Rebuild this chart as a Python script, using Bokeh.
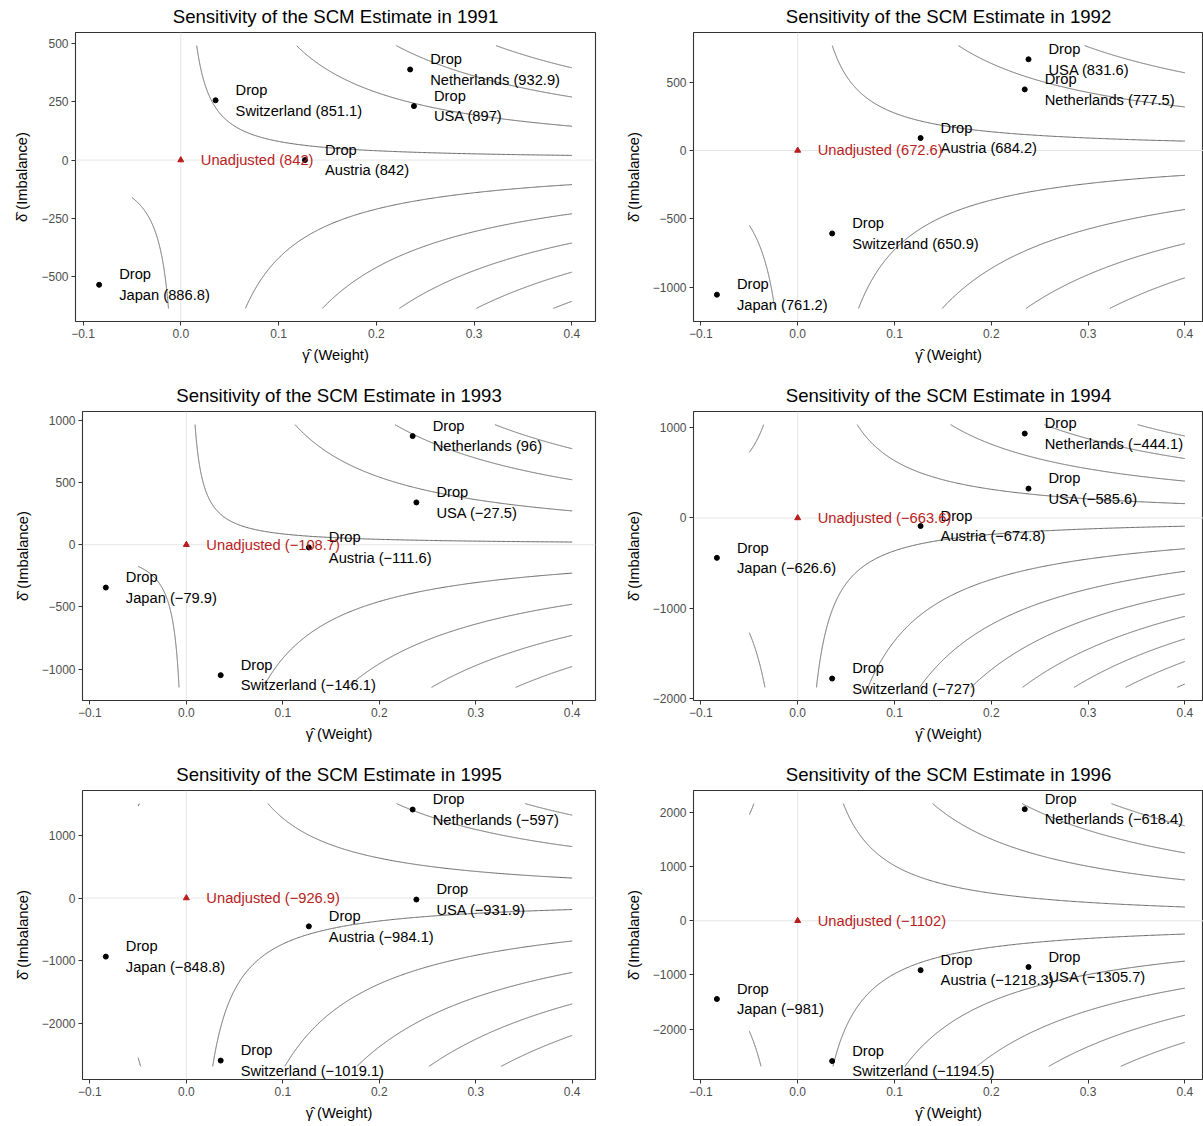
import numpy as np
from bokeh.plotting import figure
from bokeh.models import Span, CustomJSTickFormatter, FixedTicker, Range1d
from bokeh.layouts import column, row
from bokeh.embed import file_html
from bokeh.resources import INLINE
from bokeh.core.properties import value

# ---------------- data ----------------
years = [1991, 1992, 1993, 1994, 1995, 1996]
countries = ["Japan", "Switzerland", "Austria", "Netherlands", "USA"]
gamma = [-0.0835, 0.0356, 0.127, 0.2346, 0.2385]

delta_1991 = [-534, 256, 0, 388, 231]
delta_1992 = [-1055, -607, 91, 447, 667]
delta_1993 = [-344, -1048, -22, 873, 340]
delta_1994 = [-442, -1780, -89, 936, 326]
delta_1995 = [-931, -2583, -450, 1406, -24]
delta_1996 = [-1445, -2592, -912, 2063, -854]

est_1991 = [886.8, 851.1, 842, 932.9, 897]
est_1992 = [761.2, 650.9, 684.2, 777.5, 831.6]
est_1993 = [-79.9, -146.1, -111.6, 96, -27.5]
est_1994 = [-626.6, -727, -674.8, -444.1, -585.6]
est_1995 = [-848.8, -1019.1, -984.1, -597, -931.9]
est_1996 = [-981, -1194.5, -1218.3, -618.4, -1305.7]

unadjusted = [842, 672.6, -108.7, -663.6, -926.9, -1102]

levels_1991 = [600, 650, 700, 750, 800, 850, 900, 950, 1000]
levels_1992 = [300, 400, 500, 600, 700, 800, 900]
levels_1993 = [-500, -400, -300, -200, -100, 0, 100, 200]
levels_1994 = [-1400, -1300, -1200, -1100, -1000, -900, -800, -700, -600, -500, -400, -300]
levels_1995 = [-1800, -1600, -1400, -1200, -1000, -800, -600, -400]
levels_1996 = [-2000, -1800, -1600, -1400, -1200, -1000, -800, -600, -400]

grid_gamma = [-0.05, 0.4]
grid_delta_1991 = [-635, 490]
grid_delta_1992 = [-1155, 767]
grid_delta_1993 = [-1146, 965]
grid_delta_1994 = [-1878, 1035]
grid_delta_1995 = [-2675, 1500]
grid_delta_1996 = [-2690, 2165]

x_ticks = [-0.1, 0.0, 0.1, 0.2, 0.3, 0.4]
x_tick_labels = ["\u22120.1", "0.0", "0.1", "0.2", "0.3", "0.4"]
y_ticks_1991 = [-500, -250, 0, 250, 500]
y_ticks_1992 = [-1000, -500, 0, 500]
y_ticks_1993 = [-1000, -500, 0, 500, 1000]
y_ticks_1994 = [-2000, -1000, 0, 1000]
y_ticks_1995 = [-2000, -1000, 0, 1000]
y_ticks_1996 = [-2000, -1000, 0, 1000, 2000]

deltas = [delta_1991, delta_1992, delta_1993, delta_1994, delta_1995, delta_1996]
ests = [est_1991, est_1992, est_1993, est_1994, est_1995, est_1996]
levels = [levels_1991, levels_1992, levels_1993, levels_1994, levels_1995, levels_1996]
grids = [grid_delta_1991, grid_delta_1992, grid_delta_1993, grid_delta_1994, grid_delta_1995, grid_delta_1996]
yticks = [y_ticks_1991, y_ticks_1992, y_ticks_1993, y_ticks_1994, y_ticks_1995, y_ticks_1996]

# ---------------- style ----------------
FONT = "Liberation Sans"
RED = "#B81D1D"
CONTOUR = "#666666"


def fmt(v):
    return f"{v:g}".replace("-", "\u2212")


def tick_labels(vals):
    return [fmt(v) for v in vals]


def contour_segments(c, g_lo, g_hi, d_lo, d_hi, n=300):
    """Level set gamma*delta = c, restricted to the contour grid."""
    xs_all, ys_all = [], []
    if c == 0:
        return xs_all, ys_all
    for a, b in ((g_lo, -1e-12), (1e-12, g_hi)):
        if a >= b:
            continue
        cuts = [a, b] + [c / d for d in (d_lo, d_hi) if d != 0 and a < c / d < b]
        cuts = sorted(cuts)
        inside = []
        for u0, u1 in zip(cuts[:-1], cuts[1:]):
            m = 0.5 * (u0 + u1)
            if d_lo <= c / m <= d_hi:
                inside.append((u0, u1))
        if not inside:
            continue
        u0 = min(s[0] for s in inside)
        u1 = max(s[1] for s in inside)
        g = np.linspace(u0, u1, n)
        d0, d1 = sorted([c / u0, c / u1])
        g2 = c / np.linspace(d0, d1, n)
        g = np.unique(np.concatenate([g, g2[(g2 >= u0) & (g2 <= u1)]]))
        xs_all.append(g.tolist())
        ys_all.append((c / g).tolist())
    return xs_all, ys_all


def js_formatter(vals, labs):
    return CustomJSTickFormatter(
        args=dict(vals=vals, labs=labs),
        code="for (let i = 0; i < vals.length; i++) { if (Math.abs(vals[i] - tick) < 1e-9) return labs[i]; } return String(tick);",
    )


LEFT_W = 611
RIGHT_W = 592
RIGHT_VISIBLE = 510 / 514.7
ROW_H = [379, 379, 368]
ROW_TOP = [32, 32, 32]
ROW_BOTTOM = [58, 58, 47]
LEFT_BORDER = [75, 82, 82]


def make_panel(i):
    r, col = divmod(i, 2)
    year = years[i]
    u = unadjusted[i]
    dl = deltas[i]
    lo, hi = grids[i]

    xmin = min(min(gamma), grid_gamma[0], 0)
    xmax = max(max(gamma), grid_gamma[1], 0)
    xpad = 0.05 * (xmax - xmin)
    x0, x1 = xmin - xpad, xmax + xpad
    ymin = min(min(dl), lo, 0)
    ymax = max(max(dl), hi, 0)
    ypad = 0.05 * (ymax - ymin)
    y0, y1 = ymin - ypad, ymax + ypad

    if col == 0:
        width = LEFT_W
        bl, br = LEFT_BORDER[r], 16
    else:
        width = RIGHT_W
        bl, br = 82, 0
        x1 = x0 + (x1 - x0) * RIGHT_VISIBLE

    p = figure(
        width=width, height=ROW_H[r],
        x_range=Range1d(x0, x1), y_range=Range1d(y0, y1),
        output_backend="svg", toolbar_location=None,
        min_border_left=bl, min_border_right=br,
        min_border_top=ROW_TOP[r], min_border_bottom=ROW_BOTTOM[r],
        title=f"Sensitivity of the SCM Estimate in {year}",
    )
    p.title.text_font = FONT
    p.title.text_font_size = "18.6px"
    p.title.text_font_style = "normal"
    p.title.text_color = "black"
    p.title.align = "center"
    p.title.vertical_align = "top"
    p.title.standoff = 8

    p.xgrid.visible = False
    p.ygrid.visible = False
    p.outline_line_color = "#333333"
    p.outline_line_width = 1.1
    p.background_fill_color = "white"
    p.border_fill_color = "white"

    for ax in (p.xaxis[0], p.yaxis[0]):
        ax.axis_line_color = None
        ax.major_tick_out = 4
        ax.major_tick_in = 0
        ax.minor_tick_out = 0
        ax.minor_tick_in = 0
        ax.major_tick_line_color = "#333333"
        ax.major_tick_line_width = 1
        ax.major_label_text_font = FONT
        ax.major_label_text_font_size = "12px"
        ax.major_label_text_color = "#4D4D4D"
        ax.axis_label_text_font = FONT
        ax.axis_label_text_font_size = "14.7px"
        ax.axis_label_text_font_style = "normal"
        ax.axis_label_text_color = "black"

    p.xaxis.ticker = FixedTicker(ticks=x_ticks, minor_ticks=[])
    p.xaxis.formatter = js_formatter(x_ticks, x_tick_labels)
    p.yaxis.ticker = FixedTicker(ticks=yticks[i], minor_ticks=[])
    p.yaxis.formatter = js_formatter(yticks[i], tick_labels(yticks[i]))
    p.xaxis.axis_label = "\u03b3\u0302 (Weight)"
    p.yaxis.axis_label = "\u03b4\u0302 (Imbalance)"
    p.xaxis.major_label_standoff = 3
    p.yaxis.major_label_standoff = 3
    p.xaxis.axis_label_standoff = 6
    p.yaxis.axis_label_standoff = 8

    for dim in ("height", "width"):
        s = Span(location=0, dimension=dim, line_color="#E6E6E6", line_width=1)
        s.level = "underlay"
        p.add_layout(s)

    xs, ys = [], []
    for L in levels[i]:
        a, b = contour_segments(L - u, grid_gamma[0], grid_gamma[1], lo, hi)
        xs += a
        ys += b
    p.multi_line(xs, ys, line_color=CONTOUR, line_width=1)

    p.scatter(gamma, dl, size=5, color="black", marker="circle")
    p.scatter([0], [0], size=6, color=RED, marker="triangle")

    common = dict(text_font=value(FONT), text_font_size="14.7px",
                  text_align="left", text_baseline="middle", x_offset=20)
    p.text(x=gamma, y=dl, text=["Drop"] * len(countries), y_offset=-10.3,
           text_color="black", **common)
    p.text(x=gamma, y=dl, text=[f"{c} ({fmt(e)})" for c, e in zip(countries, ests[i])],
           y_offset=10.3, text_color="black", **common)
    p.text(x=[0], y=[0], text=[f"Unadjusted ({fmt(u)})"], y_offset=0,
           text_color=RED, **common)
    return p


panels = [make_panel(i) for i in range(6)]
layout = column(row(panels[0], panels[1]), row(panels[2], panels[3]), row(panels[4], panels[5]))

open("out.html", "w").write(file_html(layout, INLINE))
